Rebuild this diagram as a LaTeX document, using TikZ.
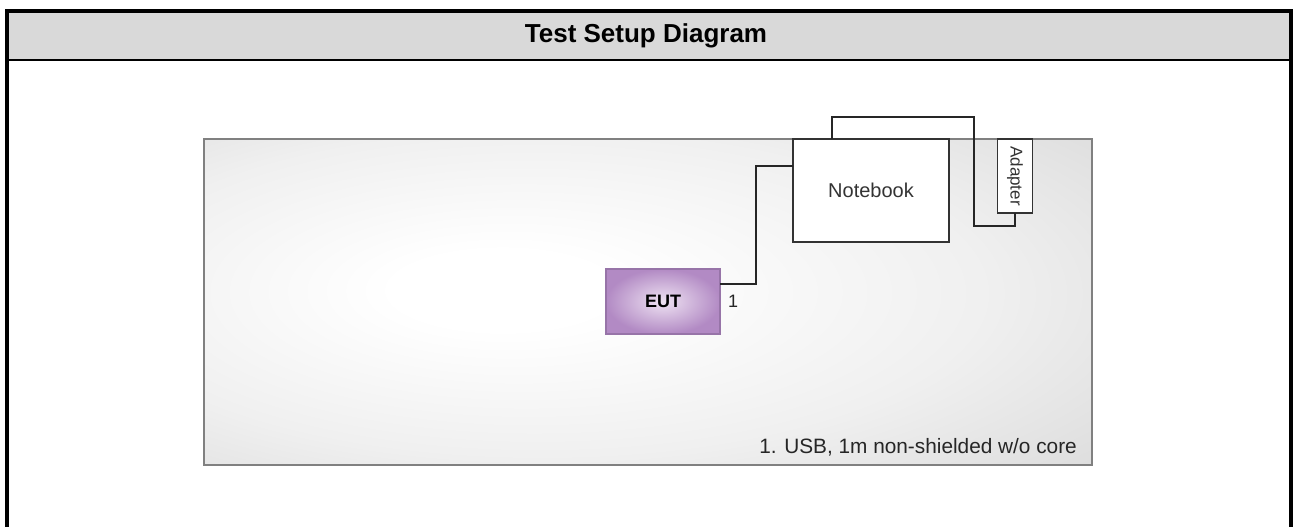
\documentclass[tikz,border=0pt]{standalone}
\usepackage{fontspec}
\setmainfont{Liberation Sans}
\usetikzlibrary{positioning}
\definecolor{hdrgray}{HTML}{D9D9D9}
\definecolor{eutin}{HTML}{EEE2F2}
\definecolor{eutout}{HTML}{B28AC4}
\definecolor{eutline}{HTML}{9774A8}
\pgfdeclareradialshading{benchglow}{\pgfpoint{-9bp}{2bp}}{color(0bp)=(white); color(6bp)=(white); color(25bp)=(black!6); color(45bp)=(black!16); color(55bp)=(black!21); color(75bp)=(black!23)}
\begin{document}
\begin{tikzpicture}[x=1pt, y=-1pt,
  wire/.style = {draw=black!85, line width=1.6pt},
  unit/.style = {draw=black!80, line width=1.8pt, fill=white, inner sep=0pt, outer sep=0pt, text=black!80},
  bench/.style = {draw=black!50, line width=1.5pt, shading=benchglow, minimum width=888pt, minimum height=326pt, inner sep=0pt, outer sep=0pt},
  eutbox/.style = {draw=eutline, line width=1.2pt, shading=radial, inner color=eutin, outer color=eutout, minimum width=114pt, minimum height=65pt, inner sep=0pt, outer sep=0pt}]
\useasboundingbox (0,0) rectangle (1293,527);
\fill[hdrgray] (9,13) rectangle (1289,59);
\draw[line width=4pt] (7,527) -- (7,11) -- (1291,11) -- (1291,527);
\draw[line width=2pt] (9,60) -- (1289,60);
\node (title) at (646,36) {\fontsize{26}{30}\selectfont\bfseries Test Setup Diagram};
\node[bench] (bench) at (648,302) {};
\node[unit, minimum width=156pt, minimum height=103pt] (nb) at (871,190.5) {\fontsize{20}{24}\selectfont Notebook};
\node[unit, minimum width=35pt, minimum height=74pt] (ad) at (1015,176) {\rotatebox{-90}{\fontsize{17}{20}\selectfont Adapter}};
\node[eutbox] (eut) at (663,301.5) {\fontsize{18}{22}\selectfont\bfseries EUT};
\node[right=8pt of eut, inner sep=0pt, text=black!85] (c1) {\fontsize{18}{22}\selectfont 1};
\node[above left=9pt and 15pt of bench.south east, inner sep=0pt, text=black!85] (legend) {\fontsize{20.8}{24}\selectfont 1. USB, 1m non-shielded w/o core};
\draw[wire] ([yshift=17.5pt]eut.east) -- ++(36,0) |- ([yshift=24.5pt]nb.west);
\draw[wire] ([xshift=-39pt]nb.north) |- ++(142,-22) |- ([yshift=-13pt]ad.south) -- (ad.south);
\end{tikzpicture}
\end{document}
